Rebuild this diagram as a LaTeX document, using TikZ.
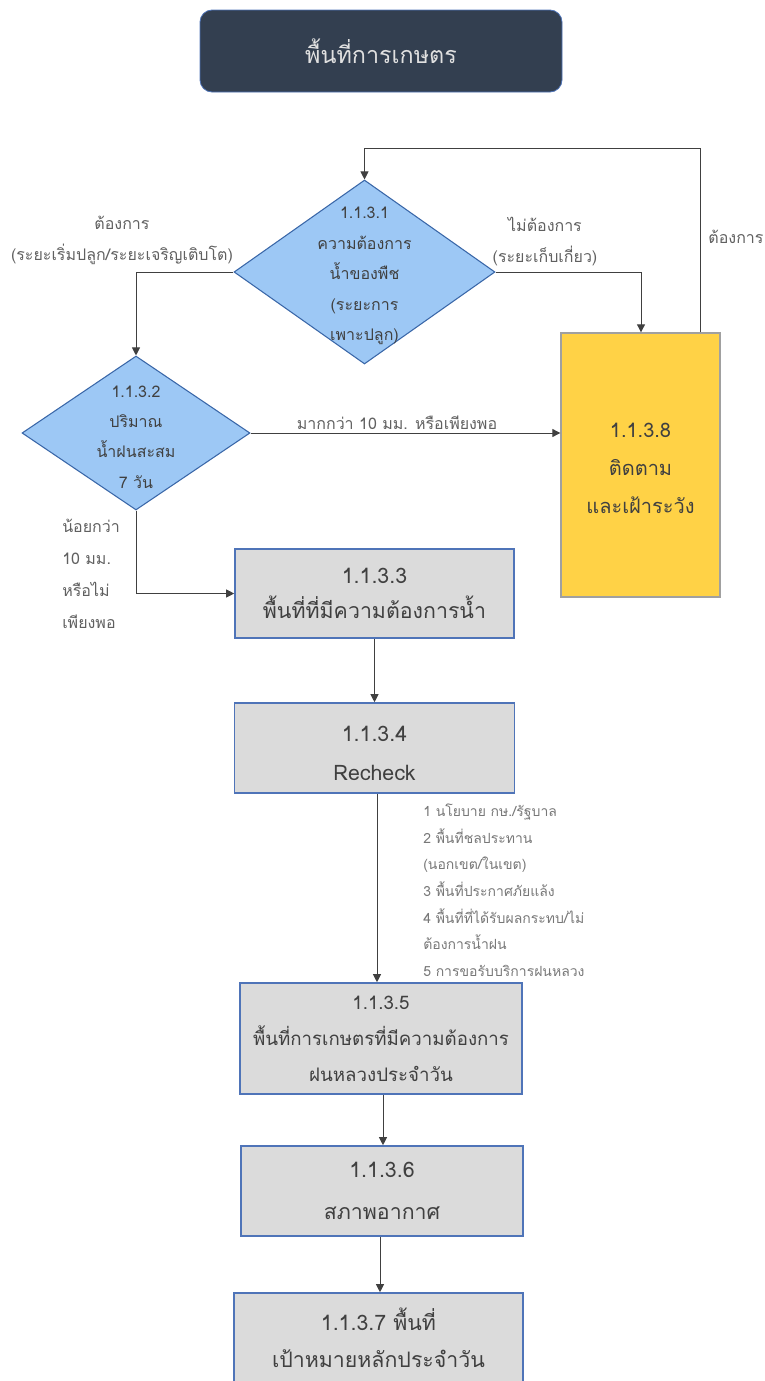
\documentclass[tikz,border=0pt]{standalone}
\usepackage{fontspec}
\setmainfont[Script=Thai]{Loma}
\usetikzlibrary{arrows.meta,shapes.geometric}
\definecolor{titlebg}{HTML}{333F50}
\definecolor{dfill}{HTML}{9DC8F5}
\definecolor{dline}{HTML}{3A67A8}
\definecolor{yfill}{HTML}{FFD246}
\definecolor{yline}{HTML}{A0A0A0}
\definecolor{gfill}{HTML}{DBDBDB}
\definecolor{gline}{HTML}{4F74B8}
\definecolor{txt}{HTML}{404040}
\definecolor{lbl}{HTML}{606060}
\definecolor{conn}{HTML}{404040}
\tikzset{
  px/.style={x=0.75pt,y=-0.75pt},
  titlebox/.style={draw=gline,line width=0.6pt,fill=titlebg,rounded corners=9pt,text=white!88!black,inner sep=0pt},
  dia/.style={diamond,draw=dline,line width=0.8pt,fill=dfill,inner sep=0pt},
  dtext/.style={text=txt,align=center,font=\fontsize{12}{22.8}\selectfont},
  ybox/.style={draw=yline,line width=1pt,fill=yfill,inner sep=0pt},
  gbox/.style={draw=gline,line width=1.2pt,fill=gfill,inner sep=0pt,text=txt,align=center},
  lab/.style={text=lbl,align=center,font=\fontsize{12}{23.25}\selectfont,inner sep=0pt},
  arr/.style={draw=conn,line width=0.7pt,-{Triangle[width=6pt,length=6pt]}},
  ln/.style={draw=conn,line width=0.7pt}
}
\begin{document}
\begin{tikzpicture}[px]
\useasboundingbox (0,0) rectangle (764,1381);
% title
\node[titlebox,minimum width=362*0.75pt,minimum height=82*0.75pt,font=\fontsize{17.5}{19}\selectfont] (title) at (381,51) {พื้นที่การเกษตร};
% decision 1
\node[dia,minimum width=261*0.75pt,minimum height=184*0.75pt] (d1) at (364.5,272) {};
\node[dtext] (d1t) at (364.5,276) {1.1.3.1\\ความต้องการ\\น้ำของพืช\\(ระยะการ\\เพาะปลูก)};
% decision 2
\node[dia,minimum width=228*0.75pt,minimum height=154*0.75pt] (d2) at (136,433) {};
\node[dtext] (d2t) at (136,437) {1.1.3.2\\ปริมาณ\\น้ำฝนสะสม\\7 วัน};
% yellow box
\node[ybox,minimum width=159*0.75pt,minimum height=264*0.75pt] (y1) at (640.5,465) {};
\node[text=txt,align=center,font=\fontsize{15}{28.5}\selectfont] (y1t) at (640.5,468) {1.1.3.8\\ติดตาม\\และเฝ้าระวัง};
% process boxes
\node[gbox,minimum width=279*0.75pt,minimum height=89*0.75pt,font=\fontsize{16}{26}\selectfont] (b3) at (374.5,593.5) {1.1.3.3\\พื้นที่ที่มีความต้องการน้ำ};
\node[gbox,minimum width=280*0.75pt,minimum height=90*0.75pt,font=\fontsize{16}{29}\selectfont] (b4) at (374.5,748) {\raisebox{-4pt}[\height][\depth]{1.1.3.4}\\\raisebox{-4pt}[\height][\depth]{Recheck}};
\node[gbox,minimum width=282*0.75pt,minimum height=111*0.75pt,font=\fontsize{14}{27}\selectfont] (b5) at (381,1038.5) {1.1.3.5\\พื้นที่การเกษตรที่มีความต้องการ\\ฝนหลวงประจำวัน};
\node[gbox,minimum width=282*0.75pt,minimum height=90*0.75pt,font=\fontsize{16}{31}\selectfont] (b6) at (382,1191) {1.1.3.6\\สภาพอากาศ};
\node[gbox,minimum width=289*0.75pt,minimum height=89*0.75pt,font=\fontsize{16}{27.5}\selectfont] (b7) at (378.5,1337.5) {1.1.3.7 พื้นที่\\เป้าหมายหลักประจำวัน};
% connectors
\coordinate (lp) at (700,148);
\coordinate (ra) at (641,0);
\draw[arr] (y1.north -| lp) -- (lp) -| (d1.north);
\draw[arr] (d1.west) -| (d2.north);
\draw[arr] (d1.east) -| (y1.north -| ra);
\draw[arr] (d2.east) -- (d2.east -| y1.west);
\draw[arr] (d2.south) |- (b3.west);
\draw[arr] (b3.south) -- (b3.south |- b4.north);
\coordinate (c45) at (377,0);
\draw[arr] (b4.south -| c45) -- (b5.north -| c45);
\coordinate (c56) at (383,0);
\draw[arr] (b5.south -| c56) -- (b6.north -| c56);
\coordinate (c67) at (380,0);
\draw[arr] (b6.south -| c67) -- (b7.north -| c67);
% labels
\node[lab] (l1) at (122,240) {ต้องการ\\(ระยะเริ่มปลูก/ระยะเจริญเติบโต)};
\node[lab] (l2) at (545,241) {ไม่ต้องการ\\(ระยะเก็บเกี่ยว)};
\node[lab] (l3) at (736,237) {ต้องการ};
\node[lab] (l4) at (397,423) {มากกว่า 10 มม. หรือเพียงพอ};
\node[lab,align=left,anchor=north west,font=\fontsize{12}{24}\selectfont] (l5) at (62,519) {น้อยกว่า\\10 มม.\\หรือไม่\\เพียงพอ};
\node[lab,align=left,anchor=north west,text=lbl!85!white,font=\fontsize{10.5}{19.9}\selectfont] (l6) at (423,804) {1 นโยบาย กษ./รัฐบาล\\2 พื้นที่ชลประทาน\\(นอกเขต/ในเขต)\\3 พื้นที่ประกาศภัยแล้ง\\4 พื้นที่ที่ได้รับผลกระทบ/ไม่\\ต้องการน้ำฝน\\5 การขอรับบริการฝนหลวง};
\end{tikzpicture}
\end{document}
